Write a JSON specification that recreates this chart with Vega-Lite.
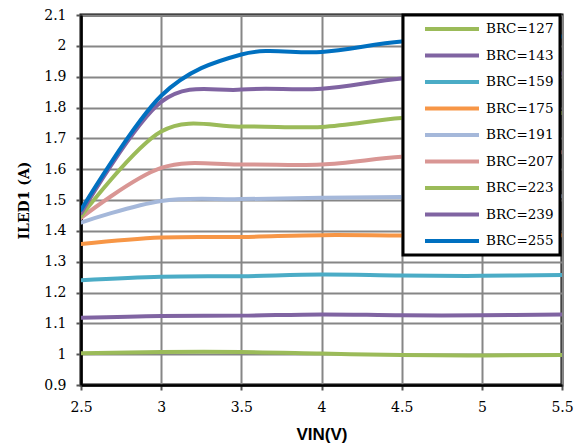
{
  "$schema": "https://vega.github.io/schema/vega-lite/v6.json",
  "width": 481,
  "height": 370,
  "autosize": {"type": "none"},
  "padding": {"left": 81, "top": 15, "right": 24, "bottom": 61},
  "background": "white",
  "data": {"values": [
    {"v": 2.5, "i": 1.003, "s": "BRC=127"}, {"v": 3, "i": 1.007, "s": "BRC=127"}, {"v": 3.5, "i": 1.007, "s": "BRC=127"}, {"v": 4, "i": 1.002, "s": "BRC=127"}, {"v": 4.5, "i": 0.997, "s": "BRC=127"}, {"v": 5, "i": 0.996, "s": "BRC=127"}, {"v": 5.5, "i": 0.997, "s": "BRC=127"},
    {"v": 2.5, "i": 1.118, "s": "BRC=143"}, {"v": 3, "i": 1.124, "s": "BRC=143"}, {"v": 3.5, "i": 1.125, "s": "BRC=143"}, {"v": 4, "i": 1.129, "s": "BRC=143"}, {"v": 4.5, "i": 1.126, "s": "BRC=143"}, {"v": 5, "i": 1.126, "s": "BRC=143"}, {"v": 5.5, "i": 1.129, "s": "BRC=143"},
    {"v": 2.5, "i": 1.240, "s": "BRC=159"}, {"v": 3, "i": 1.251, "s": "BRC=159"}, {"v": 3.5, "i": 1.253, "s": "BRC=159"}, {"v": 4, "i": 1.258, "s": "BRC=159"}, {"v": 4.5, "i": 1.255, "s": "BRC=159"}, {"v": 5, "i": 1.254, "s": "BRC=159"}, {"v": 5.5, "i": 1.257, "s": "BRC=159"},
    {"v": 2.5, "i": 1.357, "s": "BRC=175"}, {"v": 3, "i": 1.378, "s": "BRC=175"}, {"v": 3.5, "i": 1.380, "s": "BRC=175"}, {"v": 4, "i": 1.386, "s": "BRC=175"}, {"v": 4.5, "i": 1.385, "s": "BRC=175"}, {"v": 5, "i": 1.385, "s": "BRC=175"}, {"v": 5.5, "i": 1.386, "s": "BRC=175"},
    {"v": 2.5, "i": 1.427, "s": "BRC=191"}, {"v": 3, "i": 1.497, "s": "BRC=191"}, {"v": 3.5, "i": 1.503, "s": "BRC=191"}, {"v": 4, "i": 1.507, "s": "BRC=191"}, {"v": 4.5, "i": 1.510, "s": "BRC=191"}, {"v": 5, "i": 1.511, "s": "BRC=191"}, {"v": 5.5, "i": 1.512, "s": "BRC=191"},
    {"v": 2.5, "i": 1.442, "s": "BRC=207"}, {"v": 3, "i": 1.604, "s": "BRC=207"}, {"v": 3.5, "i": 1.615, "s": "BRC=207"}, {"v": 4, "i": 1.615, "s": "BRC=207"}, {"v": 4.5, "i": 1.640, "s": "BRC=207"}, {"v": 5, "i": 1.650, "s": "BRC=207"}, {"v": 5.5, "i": 1.655, "s": "BRC=207"},
    {"v": 2.5, "i": 1.447, "s": "BRC=223"}, {"v": 3, "i": 1.722, "s": "BRC=223"}, {"v": 3.5, "i": 1.738, "s": "BRC=223"}, {"v": 4, "i": 1.737, "s": "BRC=223"}, {"v": 4.5, "i": 1.766, "s": "BRC=223"}, {"v": 5, "i": 1.776, "s": "BRC=223"}, {"v": 5.5, "i": 1.782, "s": "BRC=223"},
    {"v": 2.5, "i": 1.457, "s": "BRC=239"}, {"v": 3, "i": 1.818, "s": "BRC=239"}, {"v": 3.5, "i": 1.858, "s": "BRC=239"}, {"v": 4, "i": 1.861, "s": "BRC=239"}, {"v": 4.5, "i": 1.894, "s": "BRC=239"}, {"v": 5, "i": 1.905, "s": "BRC=239"}, {"v": 5.5, "i": 1.910, "s": "BRC=239"},
    {"v": 2.5, "i": 1.468, "s": "BRC=255"}, {"v": 3, "i": 1.838, "s": "BRC=255"}, {"v": 3.5, "i": 1.972, "s": "BRC=255"}, {"v": 4, "i": 1.980, "s": "BRC=255"}, {"v": 4.5, "i": 2.014, "s": "BRC=255"}, {"v": 5, "i": 2.025, "s": "BRC=255"}, {"v": 5.5, "i": 2.030, "s": "BRC=255"}
  ]},
  "mark": {"type": "line", "interpolate": "cardinal", "tension": 0, "strokeWidth": 4, "strokeCap": "round", "clip": true},
  "encoding": {
    "x": {"field": "v", "type": "quantitative",
      "scale": {"domain": [2.5, 5.5], "nice": false, "zero": false},
      "axis": {"values": [2.5, 3, 3.5, 4, 4.5, 5, 5.5], "format": "~g", "title": "VIN(V)", "labelFlush": false,
        "titleFont": "Liberation Sans", "titleFontWeight": "bold", "titleFontSize": 17, "titlePadding": 12}},
    "y": {"field": "i", "type": "quantitative",
      "scale": {"domain": [0.9, 2.1], "nice": false, "zero": false},
      "axis": {"values": [0.9, 1, 1.1, 1.2, 1.3, 1.4, 1.5, 1.6, 1.7, 1.8, 1.9, 2, 2.1], "format": "~g", "title": "ILED1 (A)", "labelFlush": false,
        "titleFont": "DejaVu Serif", "titleFontWeight": "bold", "titleFontSize": 14, "titlePadding": 12}},
    "color": {"field": "s", "type": "nominal",
      "scale": {"domain": ["BRC=127", "BRC=143", "BRC=159", "BRC=175", "BRC=191", "BRC=207", "BRC=223", "BRC=239", "BRC=255"],
        "range": ["#9BBB59", "#8064A2", "#4BACC6", "#F79646", "#A5B8DA", "#D99694", "#9BBB59", "#8064A2", "#0070C0"]},
      "legend": {"title": null, "orient": "none", "legendX": 322, "legendY": 0,
        "fillColor": "white", "strokeColor": "black", "padding": 6,
        "symbolType": "stroke", "symbolSize": 2916, "symbolStrokeWidth": 4, "symbolOffset": 14,
        "labelFont": "DejaVu Serif", "labelFontSize": 13.5, "labelColor": "black", "labelOffset": 5,
        "labelExpr": "datum.label + '\u00a0\u00a0\u00a0\u00a0'",
        "clipHeight": 16, "rowPadding": 10.5}}
  },
  "config": {
    "view": {"stroke": "black", "strokeWidth": 3},
    "legend": {"strokeWidth": 3},
    "axis": {"grid": true, "gridColor": "#868686", "gridWidth": 2, "gridOpacity": 1,
      "domainColor": "black", "domainWidth": 2.5, "tickColor": "#555555", "tickWidth": 2, "tickSize": 5,
      "labelFont": "DejaVu Serif", "labelFontSize": 14, "labelColor": "black", "labelPadding": 10,
      "titleColor": "black"}
  }
}
